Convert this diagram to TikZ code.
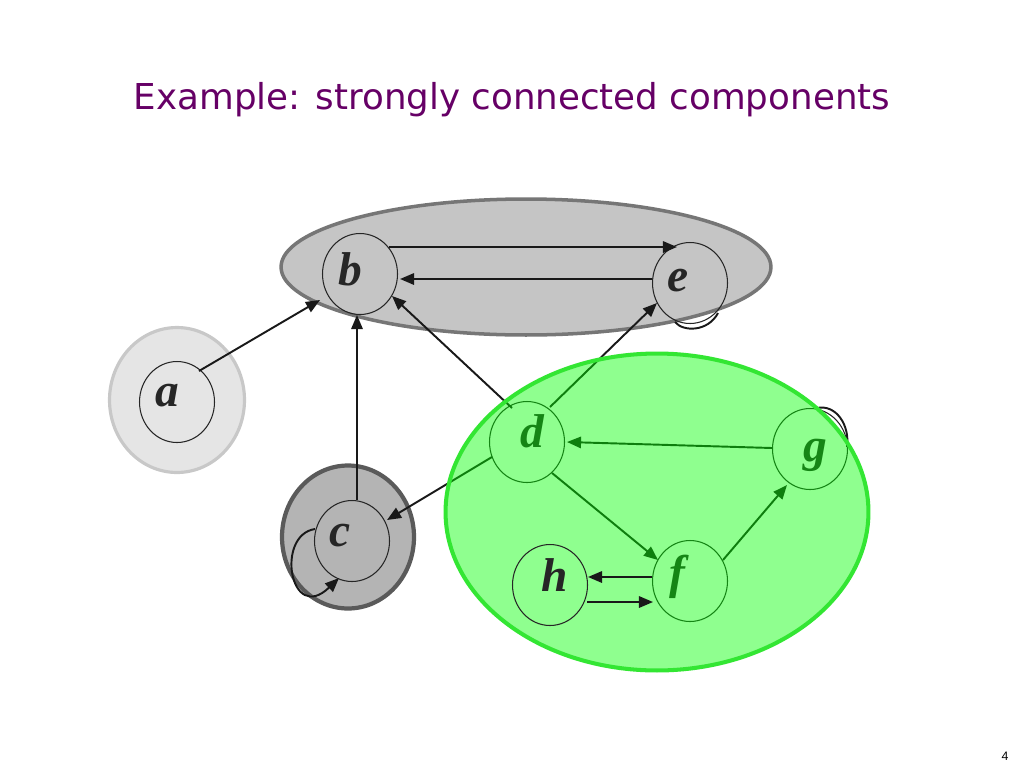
\documentclass[tikz,border=0pt]{standalone}
\usepackage{fontspec}
\setmainfont{Liberation Serif}
\newfontfamily\titlefont{DejaVu Sans}
\newfontfamily\numfont{Liberation Sans}
\usetikzlibrary{arrows.meta,calc,shapes.geometric}
\definecolor{titlepurple}{RGB}{102,0,102}
\definecolor{topfill}{RGB}{197,197,197}
\definecolor{topline}{RGB}{118,118,118}
\definecolor{afill}{RGB}{229,229,229}
\definecolor{aline}{RGB}{200,200,200}
\definecolor{cfill}{RGB}{180,180,180}
\definecolor{cline}{RGB}{90,90,90}
\definecolor{sccgreen}{RGB}{0,255,0}
\definecolor{sccline}{RGB}{51,230,51}
\begin{document}
\begin{tikzpicture}[x=0.02cm,y=-0.02cm,
  vtx/.style={ellipse, draw=black!85, line width=0.6pt, minimum width=1.50cm, minimum height=1.62cm, inner sep=0pt},
  lbl/.style={font=\fontsize{27}{30}\selectfont\bfseries\itshape, text=black!85, inner sep=0pt},
  arr/.style={line width=1.1pt, draw=black!90, -{Triangle[length=8pt,width=6.5pt]}},
  loopline/.style={line width=1.1pt, draw=black!90},
  sccshape/.style={ellipse, inner sep=0pt}]
\fill[white] (0,0) rectangle (1024,768);
\useasboundingbox (0,0) rectangle (1024,768);

% title and page number
\node[font=\titlefont\fontsize{20.3}{22}\selectfont, text=titlepurple] (title) at (512,100) {Example: strongly connected components};
\node[font=\numfont\fontsize{7}{8}\selectfont] (pagenum) at (1005,756) {4};

% component backgrounds
\node[sccshape, fill=topfill, draw=topline, line width=2pt, minimum width=9.80cm, minimum height=2.72cm] (sccbe) at (526,267) {};
\node[sccshape, fill=afill, draw=aline, line width=1.8pt, minimum width=2.70cm, minimum height=2.90cm] (scca) at (177,400) {};
\node[sccshape, fill=cfill, draw=cline, line width=2.4pt, minimum width=2.64cm, minimum height=2.86cm] (sccc) at (348,537) {};

% vertices
\node[vtx] (a) at (177,402) {};
\node[vtx] (b) at (360,274) {};
\node[vtx] (c) at (352,541) {};
\node[vtx] (d) at (527,442) {};
\node[vtx] (e) at (690,283) {};
\node[vtx] (f) at (690,581) {};
\node[vtx] (g) at (810,449) {};

\node[lbl] (la) at (167,396) {a};
\node[lbl] (lb) at (350,269) {b};
\node[lbl] (lc) at (340,536) {c};
\node[lbl] (ld) at (532,431) {d};
\node[lbl] (le) at (678,281) {e};
\node[lbl] (lf) at (677,577) {f};
\node[lbl] (lg) at (815,455) {g};

% edges
\draw[arr] ($(a)+(22,-31)$) -- ($(b)+(-40,26)$);
\draw[arr] ($(b)+(29,-27)$) -- ($(e)+(-13,-36)$);
\draw[arr] ($(e)+(-38,-4)$) -- ($(b)+(40,5)$);
\draw[arr] ($(c)+(5,-41)$) -- ($(b)+(-3,41)$);
\draw[arr] ($(d)+(-15,-34)$) -- ($(b)+(32,22)$);
\draw[arr] ($(d)+(23,-35)$) -- ($(e)+(-33,20)$);
\draw[arr] ($(d)+(-35,15)$) -- ($(c)+(35,-21)$);
\draw[arr] ($(g)+(-38,-1)$) -- ($(d)+(40,0)$);
\draw[arr] ($(d)+(25,31)$) -- ($(f)+(-32,-21)$);
\draw[arr] ($(f)+(33,-21)$) -- ($(g)+(-23,36)$);

% self loops
\draw[arr] ($(c)+(-37,-12)$) .. controls ($(c)+(-77,-6)$) and ($(c)+(-62,84)$) .. ($(c)+(-13,37)$);
\draw[loopline] ($(e)+(-15,39)$) .. controls ($(e)+(-7,49)$) and ($(e)+(18,49)$) .. ($(e)+(28,30)$);
\draw[loopline] ($(g)+(7,-41)$) .. controls ($(g)+(26,-45)$) and ($(g)+(40,-24)$) .. ($(g)+(37,-2)$);

% green component overlay
\node[sccshape, fill=sccgreen, fill opacity=0.44, draw=sccline, draw opacity=1, line width=2.3pt, minimum width=8.46cm, minimum height=6.34cm] (sccdfg) at (657,512) {};

% vertex h on top
\node[vtx] (h) at (550,585) {};
\node[lbl] (lh) at (555,575) {h};
\draw[arr] ($(f)+(-38,-4)$) -- ($(h)+(38,-8)$);
\draw[arr] ($(h)+(37,17)$) -- ($(f)+(-37,21)$);
\end{tikzpicture}
\end{document}
